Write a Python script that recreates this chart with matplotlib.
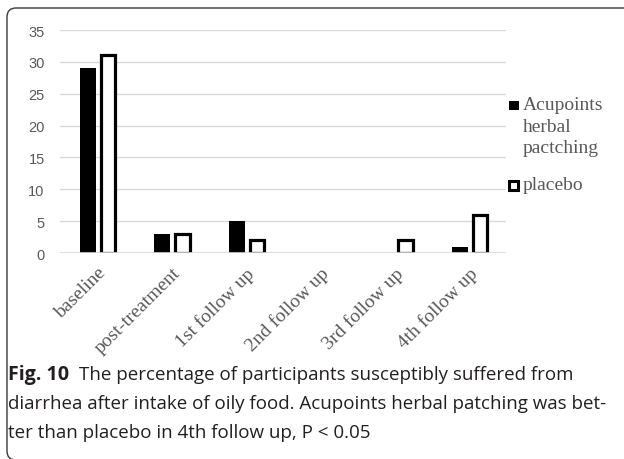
import matplotlib
matplotlib.use("Agg")
import matplotlib.pyplot as plt
from matplotlib.patches import FancyBboxPatch, Rectangle
from matplotlib.transforms import IdentityTransform

categories = ["baseline", "post-treatment", "1st follow up", "2nd follow up",
              "3rd follow up", "4th follow up"]
acupoints = [29, 3, 5, 0, 0, 1]
placebo = [31, 3, 2, 0, 2, 6]
yticks = [0, 5, 10, 15, 20, 25, 30, 35]
series_names = ["Acupoints\nherbal\npactching", "placebo"]
caption_bold = "Fig. 10"
caption_lines = ["The percentage of participants susceptibly suffered from",
                 "diarrhea after intake of oily food. Acupoints herbal patching was bet-",
                 "ter than placebo in 4th follow up, P < 0.05"]

W, H = 624, 460
fig = plt.figure(figsize=(W / 100, H / 100), dpi=100)

def px(x0, y0, x1, y1):
    return [x0 / W, 1 - y1 / H, (x1 - x0) / W, (y1 - y0) / H]

ax = fig.add_axes(px(60, 31, 506, 254))
x = list(range(len(categories)))
b1 = ax.bar([i - 0.125 for i in x], acupoints, width=0.215, color="black",
            edgecolor="none", zorder=2)
b2 = ax.bar([i + 0.148 for i in x], placebo, width=0.19, facecolor="white",
            edgecolor="black", linewidth=2.3, zorder=2)
for bars in (b1, b2):
    for r in bars:
        if r.get_height() == 0:
            r.set_visible(False)
ax.axhline(0, color="#d9d9d9", lw=1.2, zorder=3)

ax.set_xlim(-0.5, len(categories) - 0.5)
ax.set_ylim(0, 35)
ax.set_yticks(yticks)
ax.set_yticklabels([str(v) for v in yticks], fontsize=10.5,
                   color="#595959", family="Liberation Sans")
ax.yaxis.grid(True, color="#d9d9d9", lw=1)
ax.set_axisbelow(True)
ax.tick_params(axis="y", length=0, pad=11)
ax.tick_params(axis="x", length=0, pad=8)
ax.set_xticks(x)
ax.set_xticklabels(categories, rotation=45, ha="right", rotation_mode="anchor",
                   family="Liberation Serif", fontsize=14, color="#595959")
for s in ax.spines.values():
    s.set_visible(False)

# legend (drawn manually)
tr = IdentityTransform()
fig.patches.append(Rectangle((509, H - 111), 9.5, 9.5, transform=tr,
                             facecolor="black", edgecolor="none"))
fig.patches.append(Rectangle((508.5, H - 191), 9, 9.5, transform=tr,
                             facecolor="white", edgecolor="black", lw=2.2))
fig.text(523 / W, 1 - 97 / H, series_names[0], ha="left", va="top",
         family="Liberation Serif", fontsize=14, color="#595959",
         linespacing=1.36, multialignment="left")
fig.text(523 / W, 1 - 190 / H, series_names[1], ha="left", va="baseline",
         family="Liberation Serif", fontsize=14, color="#595959")

# frame
fig.patches.append(FancyBboxPatch((7, -1), 640, H - 9 + 1, transform=tr,
                                  boxstyle="round,pad=0,rounding_size=9",
                                  facecolor="none", edgecolor="#3a3a3a", lw=1.0))

# caption, fitted to the reference width
cap_font = "Open Sans"
cap_size = 13.0
target = 596.0
renderer = fig.canvas.get_renderer()
probe = fig.text(0, 0, caption_lines[1], family=cap_font, fontsize=cap_size)
wpx = probe.get_window_extent(renderer).width
probe.remove()
cap_size = cap_size * target / wpx

t0 = fig.text(8 / W, 1 - 375 / H, caption_bold, ha="left", va="center",
              family=cap_font, fontsize=cap_size * 1.05, fontweight="bold",
              color="#231f20")
bw = t0.get_window_extent(renderer).width
fig.text((8 + bw + 10) / W, 1 - 375 / H, caption_lines[0], ha="left",
         va="center", family=cap_font, fontsize=cap_size, color="#231f20")
fig.text(8 / W, 1 - 404 / H, caption_lines[1], ha="left", va="center",
         family=cap_font, fontsize=cap_size, color="#231f20")
fig.text(8 / W, 1 - 433 / H, caption_lines[2], ha="left", va="center",
         family=cap_font, fontsize=cap_size, color="#231f20")

fig.savefig("out.png", dpi=100)
